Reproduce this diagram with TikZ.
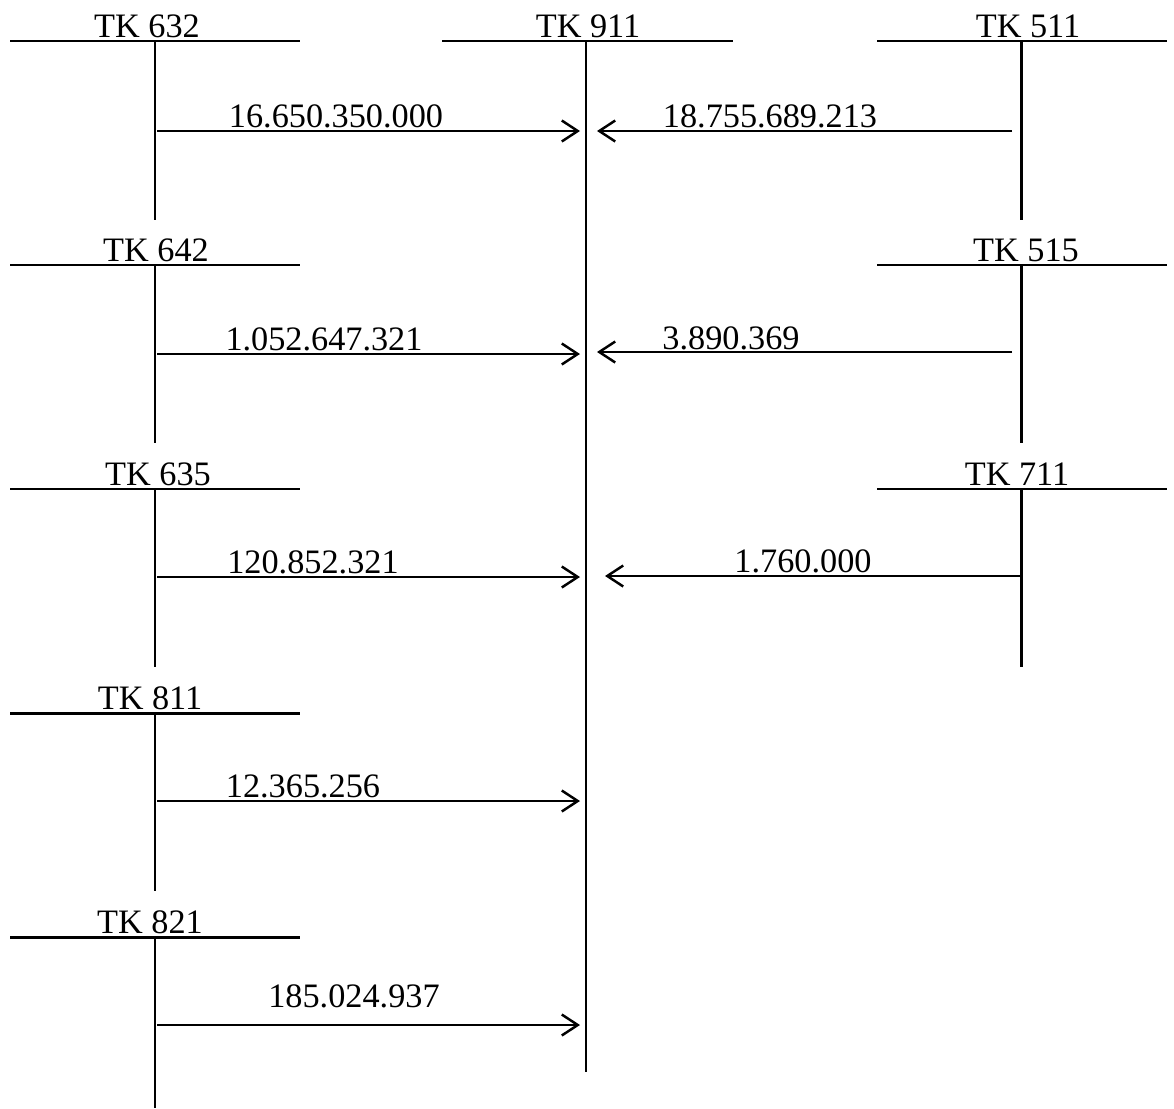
\documentclass[tikz,border=0pt]{standalone}
\usepackage{fontspec}
\setmainfont{Liberation Serif}
\usetikzlibrary{arrows.meta}

\begin{document}
\begin{tikzpicture}[
    x=0.02cm, y=-0.02cm,
    acct/.style={anchor=base, inner sep=0pt, font=\fontsize{19.5}{23}\selectfont},
    amt/.style={anchor=base, inner sep=0pt, font=\fontsize{19.5}{23}\selectfont},
    tline/.style={line width=1.7pt},
    arr/.style={-{Straight Barb[length=3.2mm, width=4.2mm, line width=1.4pt]}, line width=1.4pt},
]
\useasboundingbox (0,0) rectangle (1174,1109);

% T accounts, left column
\node[acct] (t632) at (147,37) {TK 632};
\draw[tline] (10,41) -- (300,41);
\draw[tline] (155,41) -- (155,220);
\node[acct] (t642) at (156,261) {TK 642};
\draw[tline] (10,265) -- (300,265);
\draw[tline] (155,265) -- (155,443);
\node[acct] (t635) at (158,485) {TK 635};
\draw[tline] (10,489) -- (300,489);
\draw[tline] (155,489) -- (155,667);
\node[acct] (t811) at (150,709) {TK 811};
\draw[tline] (10,713) -- (300,713);
\draw[tline] (155,713) -- (155,891);
\node[acct] (t821) at (150,933) {TK 821};
\draw[tline] (10,937) -- (300,937);
\draw[tline] (155,937) -- (155,1108);

% TK 911
\node[acct] (t911) at (588,37) {TK 911};
\draw[tline] (442,41) -- (733,41);
\draw[tline] (586,41) -- (586,1072);

% T accounts, right column
\node[acct] (t511) at (1028,37) {TK 511};
\draw[tline] (877,41) -- (1167,41);
\draw[tline] (1021,41) -- (1021,220);
\node[acct] (t515) at (1026,261) {TK 515};
\draw[tline] (877,265) -- (1167,265);
\draw[tline] (1021,265) -- (1021,443);
\node[acct] (t711) at (1017,485) {TK 711};
\draw[tline] (877,489) -- (1167,489);
\draw[tline] (1021,489) -- (1021,667);

% transfer points
\coordinate (o632) at (157,131);  \coordinate (i632) at (580,131);
\coordinate (o642) at (157,354);  \coordinate (i642) at (580,354);
\coordinate (o635) at (157,577);  \coordinate (i635) at (580,577);
\coordinate (o811) at (157,801);  \coordinate (i811) at (580,801);
\coordinate (o821) at (157,1025); \coordinate (i821) at (580,1025);
\coordinate (o511) at (1012,131); \coordinate (i511) at (597,131);
\coordinate (o515) at (1012,352); \coordinate (i515) at (597,352);
\coordinate (o711) at (1021,576); \coordinate (i711) at (605,576);

\draw[arr] (o632) -- (i632);
\draw[arr] (o642) -- (i642);
\draw[arr] (o635) -- (i635);
\draw[arr] (o811) -- (i811);
\draw[arr] (o821) -- (i821);
\draw[arr] (o511) -- (i511);
\draw[arr] (o515) -- (i515);
\draw[arr] (o711) -- (i711);

% amounts
\node[amt] (v632) at (336,127) {16.650.350.000};
\node[amt] (v642) at (324,350) {1.052.647.321};
\node[amt] (v635) at (313,573) {120.852.321};
\node[amt] (v811) at (303,797) {12.365.256};
\node[amt] (v821) at (354,1007) {185.024.937};
\node[amt] (v511) at (770,127) {18.755.689.213};
\node[amt] (v515) at (731,349) {3.890.369};
\node[amt] (v711) at (803,572) {1.760.000};

\end{tikzpicture}
\end{document}
